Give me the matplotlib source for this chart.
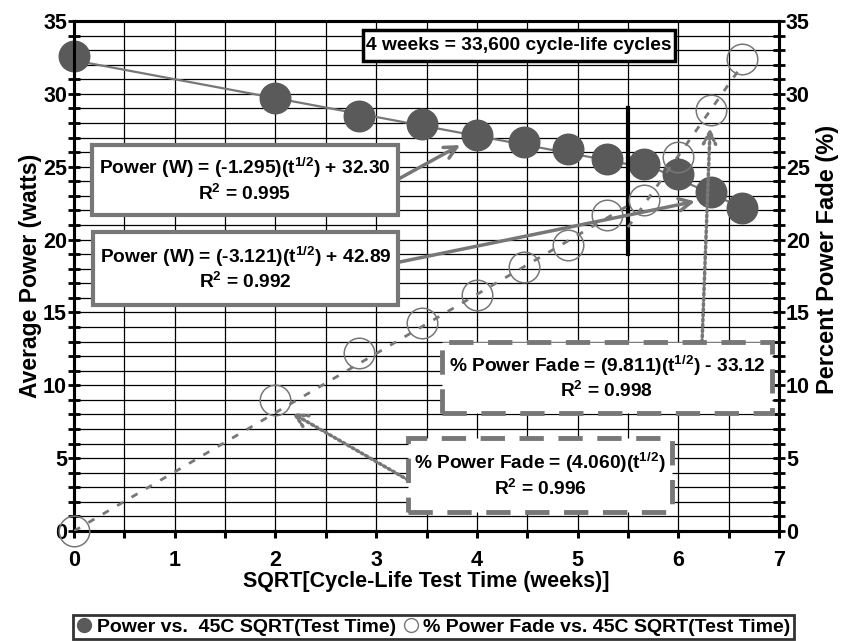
import numpy as np
import matplotlib.pyplot as plt
from matplotlib.patches import Rectangle
from matplotlib.lines import Line2D
from matplotlib.font_manager import FontProperties

plt.rcParams['font.family'] = ['Liberation Sans', 'DejaVu Sans']
plt.rcParams['font.weight'] = 'bold'
plt.rcParams['axes.labelweight'] = 'bold'
plt.rcParams['mathtext.fontset'] = 'custom'
plt.rcParams['mathtext.rm'] = 'Liberation Sans:bold'
plt.rcParams['mathtext.default'] = 'rm'

# data
sqrt_weeks = [0, 2, 2.83, 3.46, 4.0, 4.47, 4.9, 5.29, 5.66, 6.0, 6.32, 6.63]
power_w = [32.6, 29.7, 28.5, 27.9, 27.2, 26.7, 26.2, 25.5, 25.2, 24.5, 23.3, 22.2]
fade_pct = [0.0, 9.0, 12.2, 14.3, 16.2, 18.1, 19.6, 21.7, 22.7, 25.7, 28.9, 32.4]

x_ticks = [0, 1, 2, 3, 4, 5, 6, 7]
y_ticks = [0, 5, 10, 15, 20, 25, 30, 35]

# fit equations printed on the chart (slope, intercept)
power_fit1 = [-1.295, 32.30]
power_fit2 = [-3.121, 42.89]
fade_fit1 = [4.060, 0.0]
fade_fit2 = [9.811, -33.12]
break_x = 5.5
end_x = 6.63

dark = '#5a5a5a'
mid = '#777777'

fig = plt.figure(figsize=(8.46, 6.41), dpi=100)
ax = fig.add_axes([0.0875, 0.1716, 0.8333, 0.7956])
ax2 = ax.twinx()

ax.set_xlim(0, 7)
ax.set_ylim(0, 35)
ax2.set_ylim(0, 35)

# grid
ax.set_xticks(x_ticks)
ax.set_xticks(np.arange(0.5, 7, 1), minor=True)
ax.set_yticks(y_ticks)
ax.set_yticks(range(0, 36), minor=True)
ax2.set_yticks(y_ticks)
ax2.set_yticks(range(0, 36), minor=True)
ax.grid(True, which='both', color='black', lw=0.9)
ax.set_axisbelow(True)

for a in (ax, ax2):
    for s in a.spines.values():
        s.set_linewidth(2.2)
ax.tick_params(axis='x', which='both', direction='out', length=5, width=2.2, pad=9)
ax.tick_params(axis='y', which='both', direction='inout', length=8, width=2, pad=1)
ax2.tick_params(axis='y', which='both', direction='inout', length=8, width=2, pad=1)

# fit lines
x1 = np.array([0, break_x])
x2 = np.array([break_x, end_x])
ax.plot(x1, power_fit1[0] * x1 + power_fit1[1], color=mid, lw=1.6, zorder=3)
ax.plot(x2, power_fit2[0] * x2 + power_fit2[1], color=mid, lw=1.6, zorder=3)
ax2.plot(x1, fade_fit1[0] * x1 + fade_fit1[1], color=mid, lw=2, ls=(0, (2.5, 3.5)), zorder=3)
ax2.plot(x2, fade_fit2[0] * x2 + fade_fit2[1], color=mid, lw=2, ls=(0, (2.5, 3.5)), zorder=3)

# data
ax2.plot(sqrt_weeks, fade_pct, 'o', ms=22, mfc='none', mec=mid, mew=1.1, zorder=4, clip_on=False)
ax.plot(sqrt_weeks, power_w, 'o', ms=22, color=dark, zorder=4, clip_on=False)

ax.plot([break_x, break_x], [19, 29], color='black', lw=3, zorder=5)

ax.set_xlabel('SQRT[Cycle-Life Test Time (weeks)]', fontsize=15.5, fontweight='bold', labelpad=0)
ax.set_ylabel('Average Power (watts)', fontsize=16.5, fontweight='bold', labelpad=1)
fig.text(0.978, 0.595, 'Percent Power Fade (%)', rotation=90, fontsize=17,
         fontweight='bold', ha='center', va='center')


def box(x0, y0, x1, y1, text, ls='-', ec=mid, lw=3):
    ax2.add_patch(Rectangle((x0, y0), x1 - x0, y1 - y0, facecolor='white',
                            edgecolor=ec, lw=lw, ls=ls, zorder=6))
    ax2.text((x0 + x1) / 2, (y0 + y1) / 2, text, ha='center', va='center',
             multialignment='center', fontsize=13.8, fontweight='bold',
             linespacing=1.2, zorder=7)


box(2.87, 32.26, 5.97, 34.38, '4 weeks = 33,600 cycle-life cycles', ec='black', lw=2.5)
box(0.179, 21.69, 3.217, 26.49, 'Power (W) = (-1.295)(t$^{1/2}$) + 32.30\nR$^{2}$ = 0.995')
box(0.189, 15.51, 3.217, 20.52, 'Power (W) = (-3.121)(t$^{1/2}$) + 42.89\nR$^{2}$ = 0.992')
box(3.654, 8.10, 6.931, 12.97, '% Power Fade = (9.811)(t$^{1/2}$) - 33.12\nR$^{2}$ = 0.998',
    ls=(0, (5, 3)), lw=3.5)
box(3.317, 1.30, 5.938, 6.38, '% Power Fade = (4.060)(t$^{1/2}$)\nR$^{2}$ = 0.996',
    ls=(0, (5, 3)), lw=3.5)

arrow = dict(arrowstyle='->', color=mid, lw=2.5, mutation_scale=22, shrinkA=0, shrinkB=0)
dotted = dict(arrowstyle='->', color=mid, lw=2.5, ls=(0, (0.6, 0.9)), mutation_scale=22,
              shrinkA=0, shrinkB=0)
ax2.annotate('', xy=(3.834, 26.49), xytext=(3.217, 24.14), arrowprops=arrow, zorder=5)
ax2.annotate('', xy=(6.166, 22.62), xytext=(3.217, 18.44), arrowprops=arrow, zorder=5)
ax2.annotate('', xy=(6.316, 27.66), xytext=(6.236, 12.97), arrowprops=dotted, zorder=5)
ax2.annotate('', xy=(2.164, 8.10), xytext=(3.317, 3.50), arrowprops=dotted, zorder=5)

handles = [Line2D([], [], marker='o', ls='none', ms=10, color=dark),
           Line2D([], [], marker='o', ls='none', ms=10, mfc='none', mec=mid, mew=1)]
labels = ['Power vs.  45C SQRT(Test Time)', '% Power Fade vs. 45C SQRT(Test Time)']
leg = fig.legend(handles, labels, loc='center', bbox_to_anchor=(0.512, 0.0215), ncol=2,
                 prop={'size': 14, 'weight': 'bold'}, frameon=True, fancybox=False,
                 edgecolor='black', handletextpad=0.2, columnspacing=0.3,
                 handlelength=0.9, borderpad=0.15, borderaxespad=0)
leg.get_frame().set_linewidth(2)

# make tick labels bold after the ticks exist
fig.canvas.draw()
tick_fp = FontProperties(family='Liberation Sans', weight='bold', size=15.5)
for lab in ax.get_xticklabels() + ax.get_yticklabels() + ax2.get_yticklabels():
    lab.set_fontproperties(tick_fp)

fig.savefig('out.png', dpi=100)
